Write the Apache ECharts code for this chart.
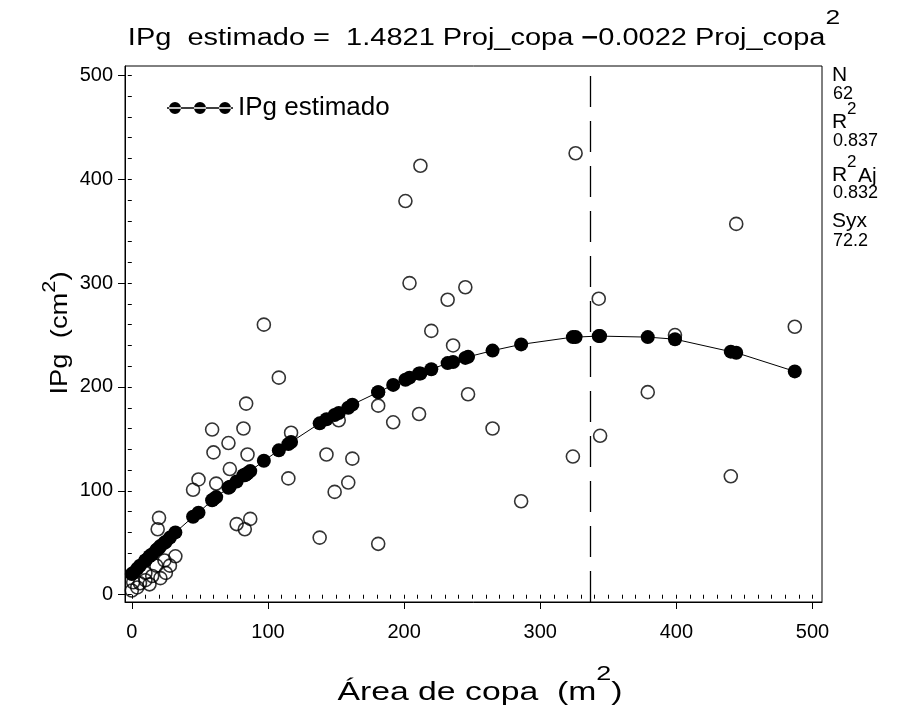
<!DOCTYPE html>
<html><head><meta charset="utf-8">
<script src="https://cdn.jsdelivr.net/npm/echarts@6/dist/echarts.min.js"></script>
<style>html,body{margin:0;padding:0;background:#fff}#c{width:907px;height:709px}</style>
</head><body><div id="c"></div>
<script>
// Observed crown area (m2) and IPg (cm2)
const areaCopa = [0,1,4,6,10,10,13,15,18,19,20,21,24,25,28,32,45,49,59,60,62,71,72,77,82,83,84,85,87,97,108,115,117,138,143,149,152,159,162,181,181,192,201,204,211,212,220,232,236,245,247,265,286,324,326,343,344,379,399,440,444,487];
const ipgObs = [4,12,7,11,21,14,10,18,28,63,74,16,33,21,28,37,101,111,159,137,107,146,121,68,160,63,184,135,73,260,209,112,156,55,135,99,168,108,131,182,49,166,379,300,174,413,254,284,240,296,193,160,90,133,425,285,153,195,250,114,357,258];
const ipgEst = [20,21,25,28,33,33,37,39,43,44,45,47,50,51,55,60,75,79,91,92,94,103,104,109,115,115,116,117,119,129,139,145,147,165,169,173,175,180,183,195,195,202,207,209,213,213,217,223,224,228,229,235,241,248,248,249,249,248,246,234,233,215];
const xTicks = [0,100,200,300,400,500];
const yTicks = [0,100,200,300,400,500];
const vertexX = 336.8;
const statLabels = ['N','R','R','Syx'];
const statSup = ['','2','2',''];
const statSuffix = ['','','Aj',''];
const statValues = ['62','0.837','0.832','72.2'];
const legendName = 'IPg estimado';

const FF = "'Liberation Sans',Arial,sans-serif";
const xMin = -5, xMax = 507, yMin = -7, yMax = 509;
const xMinor = [], yMinor = [];
for (let v = 0; v <= 500; v += 10) xMinor.push(v);
for (let v = 0; v <= 500; v += 20) yMinor.push(v);

const obsData = areaCopa.map((x, i) => [x, ipgObs[i]]);
const estData = areaCopa.map((x, i) => [x, ipgEst[i]]);

const chart = echarts.init(document.getElementById('c'), null, {renderer: 'canvas'});
const tickLabel = {fontFamily: FF, fontSize: 20, color: '#000'};
const legendIcon = 'path://M0,5.3h66v1.4h-66z M2,6a6,6 0 1,0 12,0a6,6 0 1,0 -12,0z M27,6a6,6 0 1,0 12,0a6,6 0 1,0 -12,0z M52,6a6,6 0 1,0 12,0a6,6 0 1,0 -12,0z';

const graphics = [];
const labelY = [75, 122, 175, 221];
const valueY = [94, 141, 193, 241];
statLabels.forEach((k, i) => {
  graphics.push({type: 'text', x: 832, y: labelY[i],
    style: {text: k, fontFamily: FF, fontSize: 21, fill: '#000', textVerticalAlign: 'middle'}});
  if (statSup[i]) {
    graphics.push({type: 'text', x: 847, y: labelY[i] - 13,
      style: {text: statSup[i], fontFamily: FF, fontSize: 17, fill: '#000', textVerticalAlign: 'middle'}});
  }
  if (statSuffix[i]) {
    graphics.push({type: 'text', x: 858, y: labelY[i] + 1,
      style: {text: statSuffix[i], fontFamily: FF, fontSize: 21, fill: '#000', textVerticalAlign: 'middle'}});
  }
  graphics.push({type: 'text', x: 833, y: valueY[i],
    style: {text: statValues[i], fontFamily: FF, fontSize: 18, fill: '#000', textVerticalAlign: 'middle'}});
});
graphics.push({
  type: 'text', x: 484, y: 8, scaleX: 1.26,
  style: {
    text: '{m|IPg  estimado =  1.4821 Proj_copa }{d|\u2212}{m|0.0022 Proj_copa}{s|2}',
    textAlign: 'center',
    rich: {
      m: {fontFamily: FF, fontSize: 23, color: '#000', lineHeight: 42, verticalAlign: 'bottom'},
      d: {fontFamily: FF, fontSize: 23, fontWeight: 'bold', color: '#000', lineHeight: 42, verticalAlign: 'bottom'},
      s: {fontFamily: FF, fontSize: 21, color: '#000', lineHeight: 21, verticalAlign: 'top'}
    }
  }
});
graphics.push({
  type: 'text', x: 480, y: 664, scaleX: 1.35,
  style: {
    text: '{m|\u00c1rea de copa  (m}{s|2}{m|)}',
    textAlign: 'center',
    rich: {
      m: {fontFamily: FF, fontSize: 25, color: '#000', lineHeight: 42, verticalAlign: 'bottom'},
      s: {fontFamily: FF, fontSize: 20, color: '#000', lineHeight: 20, verticalAlign: 'top'}
    }
  }
});
graphics.push({
  type: 'text', x: 56, y: 333, rotation: Math.PI / 2, scaleX: 1.14,
  style: {
    text: '{m|IPg  (cm}{s|2}{m|)}',
    textAlign: 'center', textVerticalAlign: 'middle',
    rich: {
      m: {fontFamily: FF, fontSize: 24, color: '#000', lineHeight: 32, verticalAlign: 'bottom'},
      s: {fontFamily: FF, fontSize: 19, color: '#000', lineHeight: 19, verticalAlign: 'top'}
    }
  }
});

chart.setOption({
  animation: false,
  backgroundColor: '#fff',
  grid: {left: 125, top: 66, width: 697, height: 536, show: true, borderColor: '#000', borderWidth: 1, containLabel: false},
  legend: {
    data: [{name: legendName, icon: legendIcon}],
    left: 162, top: 90, itemWidth: 66, itemHeight: 12, itemGap: 6,
    textStyle: {fontFamily: FF, fontSize: 26, color: '#000'},
    selectedMode: false
  },
  xAxis: [
    {type: 'value', min: xMin, max: xMax, position: 'bottom',
     axisLine: {onZero: false, lineStyle: {color: '#000', width: 1}},
     axisTick: {customValues: xTicks, length: 7, lineStyle: {color: '#000', width: 1}},
     axisLabel: Object.assign({customValues: xTicks, margin: 20}, tickLabel),
     splitLine: {show: false}},
    {type: 'value', min: xMin, max: xMax, position: 'bottom',
     axisLine: {show: false},
     axisTick: {customValues: xMinor, length: 4, lineStyle: {color: '#000', width: 1}},
     axisLabel: {show: false}, splitLine: {show: false}}
  ],
  yAxis: [
    {type: 'value', min: yMin, max: yMax, position: 'left',
     axisLine: {onZero: false, lineStyle: {color: '#000', width: 1}},
     axisTick: {customValues: yTicks, length: 7, lineStyle: {color: '#000', width: 1}},
     axisLabel: Object.assign({customValues: yTicks, margin: 12}, tickLabel),
     splitLine: {show: false}},
    {type: 'value', min: yMin, max: yMax, position: 'left',
     axisLine: {show: false},
     axisTick: {customValues: yMinor, length: 4, lineStyle: {color: '#000', width: 1}},
     axisLabel: {show: false}, splitLine: {show: false}}
  ],
  series: [
    {name: 'Observado', type: 'scatter', data: obsData, symbol: 'circle', symbolSize: 13,
     itemStyle: {color: 'rgba(255,255,255,0)', borderColor: '#000', borderWidth: 1.6}, z: 2,
     markLine: {silent: true, symbol: 'none', label: {show: false},
       lineStyle: {color: '#000', width: 1.3, type: [31, 14]},
       data: [{xAxis: vertexX}]}},
    {name: legendName, type: 'line', data: estData, symbol: 'circle', symbolSize: 14,
     showSymbol: true, itemStyle: {color: '#000'}, lineStyle: {color: '#000', width: 1}, z: 3}
  ],
  graphic: graphics
});
</script></body></html>
